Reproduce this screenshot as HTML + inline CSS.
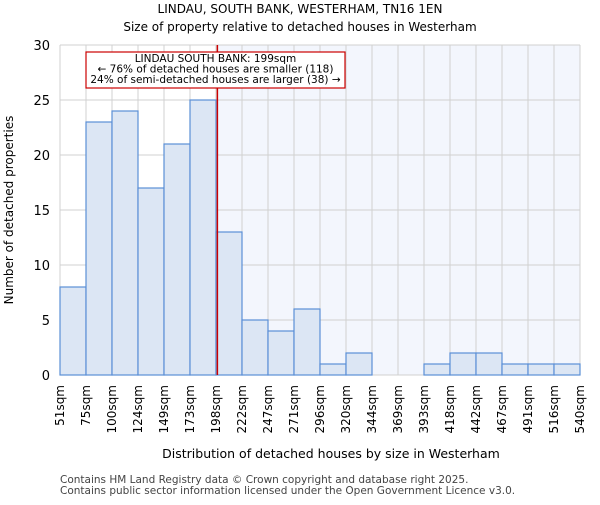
<!DOCTYPE html>
<html><head><meta charset="utf-8"><style>
body{margin:0;background:#fff;}
svg{font-family:"DejaVu Sans","Liberation Sans",sans-serif;}
</style></head><body>
<svg id="chart" width="600" height="500" xmlns="http://www.w3.org/2000/svg">
<text x="300" y="13" text-anchor="middle" font-size="12">LINDAU, SOUTH BANK, WESTERHAM, TN16 1EN</text>
<text x="300" y="31" text-anchor="middle" font-size="12">Size of property relative to detached houses in Westerham</text>
<g id="plot"></g>
<text x="331" y="458" text-anchor="middle" font-size="12.5">Distribution of detached houses by size in Westerham</text>
<text transform="translate(13,210) rotate(-90)" text-anchor="middle" font-size="12">Number of detached properties</text>
<text x="60" y="483" font-size="10.5" fill="#444">Contains HM Land Registry data © Crown copyright and database right 2025.</text>
<text x="60" y="494" font-size="10.5" fill="#444">Contains public sector information licensed under the Open Government Licence v3.0.</text>
</svg>
<script>
const binLabels=["51sqm","75sqm","100sqm","124sqm","149sqm","173sqm","198sqm","222sqm","247sqm","271sqm","296sqm","320sqm","344sqm","369sqm","393sqm","418sqm","442sqm","467sqm","491sqm","516sqm","540sqm"];
const counts=[8,23,24,17,21,25,13,5,4,6,1,2,0,0,1,2,2,1,1,1];
const yTicks=[0,5,10,15,20,25,30];
const propertySize=199;
const binStart=51, binEnd=540;
const X0=60,X1=580,Y0=375,Y1=45,YMAX=30;
const nb=counts.length, bw=(X1-X0)/nb;
const xb=i=>X0+i*bw;
const y=v=>Y0-(v/YMAX)*(Y0-Y1);
const xs=v=>X0+(v-binStart)/(binEnd-binStart)*(X1-X0);
const NS="http://www.w3.org/2000/svg";
const g=document.getElementById('plot');
function mk(t,a){const e=document.createElementNS(NS,t);for(const k in a)e.setAttribute(k,a[k]);g.appendChild(e);return e;}
const px=xs(propertySize);
let e=mk('rect',{x:px,y:Y1,width:X1-px,height:Y0-Y1,fill:'#f3f6fd'});


for(let i=0;i<=nb;i++){e=mk('line',{x1:xb(i),x2:xb(i),y1:Y1,y2:Y0,stroke:'#d0d0d0'});

}
yTicks.forEach(t=>{e=mk('line',{x1:X0,x2:X1,y1:y(t),y2:y(t),stroke:'#d0d0d0'});


e=mk('text',{x:X0-10,y:y(t)+5,'text-anchor':'end','font-size':13});e.textContent=t;

});
counts.forEach((c,i)=>{if(c<=0)return;e=mk('rect',{x:xb(i),y:y(c),width:bw,height:Y0-y(c),fill:'#dce6f4',stroke:'#5b8fd6','stroke-width':1.2});

});
binLabels.forEach((l,i)=>{const xx=xb(i)+4;e=mk('text',{x:xx,y:385,transform:`rotate(-90 ${xx} 385)`,'text-anchor':'end','font-size':12});e.textContent=l;

});
e=mk('line',{x1:px,x2:px,y1:Y1,y2:Y0,stroke:'#c00','stroke-width':1.5});


e=mk('rect',{x:86,y:52,width:259,height:36,fill:'#fff',stroke:'#c00','stroke-width':1.2});


["LINDAU SOUTH BANK: 199sqm","← 76% of detached houses are smaller (118)","24% of semi-detached houses are larger (38) →"].forEach((t,i)=>{e=mk('text',{x:215.5,y:62+i*10.5,'text-anchor':'middle','font-size':10.5});e.textContent=t;

});
</script>
</body></html>
